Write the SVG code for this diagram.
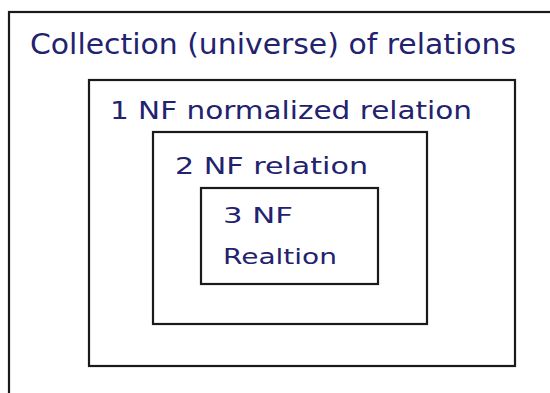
<svg xmlns="http://www.w3.org/2000/svg" width="550" height="393" viewBox="0 0 550 393">
<style>
.box{fill:none;stroke:#1a1a1a;stroke-width:2.2}
.t{font-family:"DejaVu Sans","Liberation Sans",sans-serif;fill:#22226e}
</style>
<rect width="550" height="393" fill="#ffffff"/>
<g id="universe">
<rect class="box" x="9" y="12" width="560" height="400"/>
<text class="t" x="30" y="54" font-size="28" textLength="486" lengthAdjust="spacingAndGlyphs">Collection (universe) of relations</text>
</g>
<g id="nf1">
<rect class="box" x="89" y="80" width="426" height="286"/>
<text class="t" x="110" y="119" font-size="24" textLength="362" lengthAdjust="spacingAndGlyphs">1 NF normalized relation</text>
</g>
<g id="nf2">
<rect class="box" x="153" y="132" width="274" height="192"/>
<text class="t" x="175" y="174" font-size="23" textLength="193" lengthAdjust="spacingAndGlyphs">2 NF relation</text>
</g>
<g id="nf3">
<rect class="box" x="201" y="188" width="177" height="96"/>
<text class="t" x="223" y="223" font-size="22" textLength="70" lengthAdjust="spacingAndGlyphs">3 NF</text>
<text class="t" x="223" y="264" font-size="22" textLength="114" lengthAdjust="spacingAndGlyphs">Realtion</text>
</g>
<g id="connectors"></g>
</svg>
